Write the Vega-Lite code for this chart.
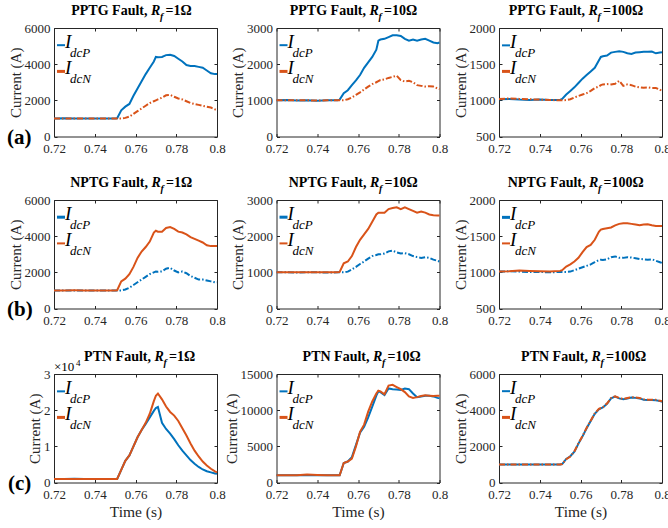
{
  "$schema": "https://vega.github.io/schema/vega-lite/v6.json",
  "padding": {"top": 3, "left": 6, "right": 0, "bottom": 0},
  "background": "white",
  "datasets": {
    "p11": [
      {"t":0.72,"P":1000,"N":995},{"t":0.725,"P":1005,"N":1000},{"t":0.73,"P":995,"N":1000},{"t":0.735,"P":1000,"N":995},
      {"t":0.74,"P":1000,"N":1000},{"t":0.745,"P":995,"N":1000},{"t":0.75,"P":1000,"N":1000},{"t":0.751,"P":1010,"N":1000},
      {"t":0.753,"P":1450,"N":1000},{"t":0.755,"P":1650,"N":1030},{"t":0.757,"P":1800,"N":1100},{"t":0.759,"P":2250,"N":1250},
      {"t":0.761,"P":2650,"N":1400},{"t":0.763,"P":3050,"N":1550},{"t":0.765,"P":3450,"N":1700},{"t":0.767,"P":3800,"N":1850},
      {"t":0.769,"P":4150,"N":1950},{"t":0.77,"P":4400,"N":2000},{"t":0.771,"P":4380,"N":2050},{"t":0.773,"P":4400,"N":2150},
      {"t":0.775,"P":4500,"N":2280},{"t":0.777,"P":4520,"N":2300},{"t":0.779,"P":4450,"N":2200},{"t":0.781,"P":4300,"N":2100},
      {"t":0.783,"P":4150,"N":2050},{"t":0.785,"P":3950,"N":1950},{"t":0.787,"P":3900,"N":1850},{"t":0.789,"P":3900,"N":1800},
      {"t":0.791,"P":3850,"N":1750},{"t":0.793,"P":3800,"N":1700},{"t":0.795,"P":3650,"N":1650},{"t":0.797,"P":3500,"N":1600},
      {"t":0.799,"P":3450,"N":1500},{"t":0.8,"P":3450,"N":1450}
    ],
    "p12": [
      {"t":0.72,"P":1000,"N":1000},{"t":0.725,"P":1010,"N":1005},{"t":0.73,"P":995,"N":1000},{"t":0.735,"P":1000,"N":1000},
      {"t":0.74,"P":990,"N":995},{"t":0.745,"P":1000,"N":1000},{"t":0.75,"P":1000,"N":1000},{"t":0.751,"P":1020,"N":1000},
      {"t":0.753,"P":1200,"N":1000},{"t":0.755,"P":1280,"N":1030},{"t":0.757,"P":1420,"N":1080},{"t":0.759,"P":1550,"N":1150},
      {"t":0.761,"P":1700,"N":1220},{"t":0.763,"P":1900,"N":1300},{"t":0.765,"P":2050,"N":1380},{"t":0.767,"P":2200,"N":1450},
      {"t":0.769,"P":2400,"N":1500},{"t":0.77,"P":2650,"N":1530},{"t":0.771,"P":2680,"N":1560},{"t":0.773,"P":2700,"N":1580},
      {"t":0.775,"P":2750,"N":1620},{"t":0.777,"P":2800,"N":1650},{"t":0.779,"P":2800,"N":1680},{"t":0.781,"P":2780,"N":1560},
      {"t":0.783,"P":2700,"N":1520},{"t":0.785,"P":2650,"N":1540},{"t":0.787,"P":2680,"N":1500},{"t":0.789,"P":2650,"N":1420},
      {"t":0.791,"P":2680,"N":1400},{"t":0.793,"P":2700,"N":1380},{"t":0.795,"P":2650,"N":1390},{"t":0.797,"P":2600,"N":1380},
      {"t":0.799,"P":2580,"N":1330},{"t":0.8,"P":2600,"N":1310}
    ],
    "p13": [
      {"t":0.72,"P":1015,"N":1020},{"t":0.725,"P":1020,"N":1025},{"t":0.73,"P":1010,"N":1020},{"t":0.735,"P":1005,"N":1015},
      {"t":0.74,"P":1010,"N":1010},{"t":0.745,"P":1005,"N":1005},{"t":0.75,"P":1005,"N":1000},{"t":0.751,"P":1020,"N":1000},
      {"t":0.753,"P":1080,"N":1005},{"t":0.755,"P":1130,"N":1015},{"t":0.757,"P":1180,"N":1040},{"t":0.759,"P":1240,"N":1060},
      {"t":0.761,"P":1300,"N":1080},{"t":0.763,"P":1350,"N":1100},{"t":0.765,"P":1400,"N":1130},{"t":0.767,"P":1450,"N":1170},
      {"t":0.769,"P":1550,"N":1190},{"t":0.77,"P":1600,"N":1210},{"t":0.771,"P":1610,"N":1220},{"t":0.773,"P":1620,"N":1225},
      {"t":0.775,"P":1660,"N":1220},{"t":0.777,"P":1670,"N":1230},{"t":0.779,"P":1680,"N":1270},{"t":0.781,"P":1670,"N":1200},
      {"t":0.783,"P":1650,"N":1220},{"t":0.785,"P":1640,"N":1210},{"t":0.787,"P":1660,"N":1190},{"t":0.789,"P":1665,"N":1180},
      {"t":0.791,"P":1670,"N":1175},{"t":0.793,"P":1670,"N":1180},{"t":0.795,"P":1675,"N":1170},{"t":0.797,"P":1650,"N":1170},
      {"t":0.799,"P":1660,"N":1150},{"t":0.8,"P":1665,"N":1120}
    ],
    "p21": [
      {"t":0.72,"P":1000,"N":1000},{"t":0.725,"P":995,"N":1000},{"t":0.73,"P":1000,"N":1005},{"t":0.735,"P":1000,"N":1000},
      {"t":0.74,"P":995,"N":1000},{"t":0.745,"P":1000,"N":1000},{"t":0.75,"P":1000,"N":1000},{"t":0.751,"P":1000,"N":1010},
      {"t":0.753,"P":1000,"N":1500},{"t":0.755,"P":1050,"N":1650},{"t":0.757,"P":1150,"N":1900},{"t":0.759,"P":1300,"N":2300},
      {"t":0.761,"P":1450,"N":2800},{"t":0.763,"P":1600,"N":3150},{"t":0.765,"P":1750,"N":3400},{"t":0.767,"P":1900,"N":3700},
      {"t":0.769,"P":2000,"N":4200},{"t":0.77,"P":2050,"N":4300},{"t":0.771,"P":2030,"N":4250},{"t":0.773,"P":2050,"N":4250},
      {"t":0.775,"P":2200,"N":4450},{"t":0.777,"P":2250,"N":4500},{"t":0.779,"P":2100,"N":4400},{"t":0.781,"P":2000,"N":4250},
      {"t":0.783,"P":2050,"N":4200},{"t":0.785,"P":1950,"N":4100},{"t":0.787,"P":1800,"N":3950},{"t":0.789,"P":1700,"N":3850},
      {"t":0.791,"P":1600,"N":3750},{"t":0.793,"P":1600,"N":3650},{"t":0.795,"P":1550,"N":3500},{"t":0.797,"P":1500,"N":3450},
      {"t":0.799,"P":1450,"N":3450},{"t":0.8,"P":1450,"N":3450}
    ],
    "p22": [
      {"t":0.72,"P":1000,"N":1000},{"t":0.725,"P":1000,"N":1000},{"t":0.73,"P":995,"N":1000},{"t":0.735,"P":1000,"N":1000},
      {"t":0.74,"P":1000,"N":1000},{"t":0.745,"P":995,"N":1000},{"t":0.75,"P":1000,"N":1000},{"t":0.751,"P":1000,"N":1010},
      {"t":0.753,"P":1000,"N":1250},{"t":0.755,"P":1020,"N":1300},{"t":0.757,"P":1080,"N":1450},{"t":0.759,"P":1150,"N":1700},
      {"t":0.761,"P":1230,"N":1900},{"t":0.763,"P":1300,"N":2050},{"t":0.765,"P":1380,"N":2200},{"t":0.767,"P":1450,"N":2400},
      {"t":0.769,"P":1480,"N":2600},{"t":0.77,"P":1500,"N":2650},{"t":0.771,"P":1500,"N":2650},{"t":0.773,"P":1520,"N":2650},
      {"t":0.775,"P":1580,"N":2750},{"t":0.777,"P":1600,"N":2780},{"t":0.779,"P":1550,"N":2800},{"t":0.781,"P":1520,"N":2750},
      {"t":0.783,"P":1530,"N":2800},{"t":0.785,"P":1500,"N":2750},{"t":0.787,"P":1450,"N":2700},{"t":0.789,"P":1420,"N":2650},
      {"t":0.791,"P":1400,"N":2680},{"t":0.793,"P":1420,"N":2650},{"t":0.795,"P":1400,"N":2600},{"t":0.797,"P":1350,"N":2580},
      {"t":0.799,"P":1320,"N":2570},{"t":0.8,"P":1300,"N":2570}
    ],
    "p23": [
      {"t":0.72,"P":1010,"N":1010},{"t":0.725,"P":1015,"N":1015},{"t":0.73,"P":1010,"N":1025},{"t":0.735,"P":1005,"N":1020},
      {"t":0.74,"P":1005,"N":1015},{"t":0.745,"P":1000,"N":1010},{"t":0.75,"P":1005,"N":1020},{"t":0.751,"P":1005,"N":1030},
      {"t":0.753,"P":1005,"N":1080},{"t":0.755,"P":1010,"N":1110},{"t":0.757,"P":1030,"N":1150},{"t":0.759,"P":1050,"N":1200},
      {"t":0.761,"P":1070,"N":1280},{"t":0.763,"P":1090,"N":1350},{"t":0.765,"P":1110,"N":1380},{"t":0.767,"P":1140,"N":1450},
      {"t":0.769,"P":1170,"N":1560},{"t":0.77,"P":1175,"N":1590},{"t":0.771,"P":1170,"N":1600},{"t":0.773,"P":1180,"N":1610},
      {"t":0.775,"P":1210,"N":1620},{"t":0.777,"P":1220,"N":1650},{"t":0.779,"P":1200,"N":1670},{"t":0.781,"P":1200,"N":1680},
      {"t":0.783,"P":1210,"N":1680},{"t":0.785,"P":1205,"N":1670},{"t":0.787,"P":1195,"N":1660},{"t":0.789,"P":1185,"N":1650},
      {"t":0.791,"P":1180,"N":1660},{"t":0.793,"P":1175,"N":1665},{"t":0.795,"P":1180,"N":1650},{"t":0.797,"P":1160,"N":1640},
      {"t":0.799,"P":1140,"N":1640},{"t":0.8,"P":1130,"N":1640}
    ],
    "p31": [
      {"t":0.72,"P":1000,"N":1000},{"t":0.725,"P":1000,"N":1000},{"t":0.73,"P":1005,"N":1000},{"t":0.735,"P":1000,"N":1000},
      {"t":0.74,"P":1000,"N":1000},{"t":0.745,"P":1000,"N":1000},{"t":0.75,"P":1000,"N":1000},{"t":0.751,"P":1000,"N":1000},
      {"t":0.753,"P":3500,"N":3500},{"t":0.755,"P":6000,"N":6000},{"t":0.757,"P":7500,"N":7500},{"t":0.759,"P":10000,"N":10000},
      {"t":0.761,"P":12500,"N":12500},{"t":0.763,"P":14500,"N":14500},{"t":0.765,"P":16200,"N":16500},{"t":0.767,"P":18000,"N":19000},
      {"t":0.769,"P":19800,"N":22500},{"t":0.77,"P":20600,"N":24000},{"t":0.771,"P":20900,"N":24600},{"t":0.773,"P":16500,"N":23000},
      {"t":0.775,"P":14800,"N":21000},{"t":0.777,"P":13500,"N":19500},{"t":0.779,"P":12000,"N":18500},{"t":0.781,"P":10300,"N":17000},
      {"t":0.783,"P":8800,"N":15000},{"t":0.785,"P":7500,"N":13000},{"t":0.787,"P":6200,"N":10800},{"t":0.789,"P":5200,"N":8800},
      {"t":0.791,"P":4300,"N":7200},{"t":0.793,"P":3600,"N":5800},{"t":0.795,"P":3100,"N":4700},{"t":0.797,"P":2800,"N":3800},
      {"t":0.799,"P":2500,"N":3100},{"t":0.8,"P":2400,"N":2800}
    ],
    "p32": [
      {"t":0.72,"P":1000,"N":1000},{"t":0.725,"P":1000,"N":1000},{"t":0.73,"P":1000,"N":1000},{"t":0.735,"P":1000,"N":1100},
      {"t":0.74,"P":1000,"N":1050},{"t":0.745,"P":1000,"N":1000},{"t":0.75,"P":1000,"N":1000},{"t":0.751,"P":1000,"N":1000},
      {"t":0.753,"P":2700,"N":2700},{"t":0.755,"P":2900,"N":2900},{"t":0.757,"P":3500,"N":3300},{"t":0.759,"P":5200,"N":5000},
      {"t":0.761,"P":6900,"N":7000},{"t":0.763,"P":7700,"N":8000},{"t":0.765,"P":9000,"N":9800},{"t":0.767,"P":10500,"N":11200},
      {"t":0.769,"P":12000,"N":12300},{"t":0.77,"P":12600,"N":12700},{"t":0.771,"P":12500,"N":12600},{"t":0.773,"P":12100,"N":12200},
      {"t":0.775,"P":13000,"N":13400},{"t":0.777,"P":12900,"N":13500},{"t":0.779,"P":12850,"N":13200},{"t":0.781,"P":12800,"N":12900},
      {"t":0.783,"P":13000,"N":12500},{"t":0.785,"P":12900,"N":11900},{"t":0.787,"P":12300,"N":11700},{"t":0.789,"P":11800,"N":11800},
      {"t":0.791,"P":11900,"N":11950},{"t":0.793,"P":12000,"N":12050},{"t":0.795,"P":12000,"N":12000},{"t":0.797,"P":11900,"N":11950},
      {"t":0.799,"P":11700,"N":12000},{"t":0.8,"P":11650,"N":12000}
    ],
    "p33": [
      {"t":0.72,"P":1000,"N":1000},{"t":0.725,"P":1000,"N":1000},{"t":0.73,"P":1000,"N":1000},{"t":0.735,"P":1000,"N":1000},
      {"t":0.74,"P":1000,"N":1000},{"t":0.745,"P":1000,"N":1000},{"t":0.75,"P":1000,"N":1000},{"t":0.751,"P":1020,"N":1020},
      {"t":0.753,"P":1300,"N":1290},{"t":0.755,"P":1450,"N":1440},{"t":0.757,"P":1700,"N":1720},{"t":0.759,"P":2150,"N":2170},
      {"t":0.761,"P":2550,"N":2570},{"t":0.763,"P":3000,"N":3020},{"t":0.765,"P":3400,"N":3420},{"t":0.767,"P":3800,"N":3820},
      {"t":0.769,"P":4050,"N":4070},{"t":0.77,"P":4100,"N":4120},{"t":0.771,"P":4150,"N":4170},{"t":0.773,"P":4350,"N":4370},
      {"t":0.775,"P":4650,"N":4670},{"t":0.777,"P":4750,"N":4770},{"t":0.779,"P":4650,"N":4670},{"t":0.781,"P":4600,"N":4620},
      {"t":0.783,"P":4650,"N":4670},{"t":0.785,"P":4700,"N":4720},{"t":0.787,"P":4680,"N":4700},{"t":0.789,"P":4650,"N":4670},
      {"t":0.791,"P":4580,"N":4600},{"t":0.793,"P":4560,"N":4580},{"t":0.795,"P":4560,"N":4580},{"t":0.797,"P":4550,"N":4570},
      {"t":0.799,"P":4500,"N":4520},{"t":0.8,"P":4470,"N":4490}
    ]
  },
  "vconcat": [
    {
      "hconcat": [
        {
          "width": 163, "height": 108.5,
          "resolve": {"axis": {"x": "independent", "y": "independent"}},
          "layer": [
            {"data": {"name": "p11"}, "transform": [{"fold": ["P", "N"], "as": ["s", "v"]}, {"filter": "datum.s === 'P'"}],
             "mark": {"type": "line", "color": "#0072BD", "strokeWidth": 2},
             "encoding": {
               "x": {"field": "t", "type": "quantitative", "scale": {"domain": [0.72, 0.8], "nice": false}, "axis": {"values": [0.72, 0.74, 0.76, 0.78, 0.8], "format": ".2~f", "title": null}},
               "y": {"field": "v", "type": "quantitative", "scale": {"domain": [0, 6000], "nice": false}, "axis": {"values": [0, 2000, 4000, 6000], "format": "d", "title": "Current (A)"}}}},
            {"data": {"name": "p11"}, "transform": [{"fold": ["P", "N"], "as": ["s", "v"]}, {"filter": "datum.s === 'N'"}],
             "mark": {"type": "line", "color": "#D95319", "strokeWidth": 2, "strokeDash": [6, 2, 1.5, 2]},
             "encoding": {
               "x": {"field": "t", "type": "quantitative", "axis": {"orient": "top", "values": [0.72, 0.74, 0.76, 0.78, 0.8], "labels": false, "title": null}},
               "y": {"field": "v", "type": "quantitative", "axis": {"orient": "right", "values": [0, 2000, 4000, 6000], "labels": false, "title": null}}}},
            {"data": {"values": [{}]}, "mark": {"type": "text", "style": "ttl", "text": "PPTG Fault,", "align": "right", "dx": 12, "dy": -13},
             "encoding": {"x": {"datum": 0.76, "type": "quantitative", "axis": null}, "y": {"datum": 6000, "type": "quantitative", "axis": null}}},
            {"data": {"values": [{}]}, "mark": {"type": "text", "style": "ttlR", "text": "R", "align": "left", "dx": 15.5, "dy": -13},
             "encoding": {"x": {"datum": 0.76, "type": "quantitative", "axis": null}, "y": {"datum": 6000, "type": "quantitative", "axis": null}}},
            {"data": {"values": [{}]}, "mark": {"type": "text", "style": "ttlf", "text": "f", "align": "left", "dx": 24.5, "dy": -8},
             "encoding": {"x": {"datum": 0.76, "type": "quantitative", "axis": null}, "y": {"datum": 6000, "type": "quantitative", "axis": null}}},
            {"data": {"values": [{}]}, "mark": {"type": "text", "style": "ttl", "text": "=1Ω", "align": "left", "dx": 30, "dy": -13},
             "encoding": {"x": {"datum": 0.76, "type": "quantitative", "axis": null}, "y": {"datum": 6000, "type": "quantitative", "axis": null}}},
            {"data": {"values": [{}]}, "mark": {"type": "point", "shape": "stroke", "size": 64, "strokeWidth": 2, "color": "#0072BD", "opacity": 1},
             "encoding": {"x": {"datum": 0.72344, "type": "quantitative", "axis": null}, "y": {"datum": 5050, "type": "quantitative", "axis": null}}},
            {"data": {"values": [{}]}, "mark": {"type": "point", "shape": "stroke", "size": 64, "strokeWidth": 3, "color": "#D95319", "opacity": 1},
             "encoding": {"x": {"datum": 0.72344, "type": "quantitative", "axis": null}, "y": {"datum": 3600, "type": "quantitative", "axis": null}}},
            {"data": {"values": [{}]}, "mark": {"type": "text", "style": "lgI", "text": "I", "align": "left", "dx": 4, "dy": 3},
             "encoding": {"x": {"datum": 0.72344, "type": "quantitative", "axis": null}, "y": {"datum": 5050, "type": "quantitative", "axis": null}}},
            {"data": {"values": [{}]}, "mark": {"type": "text", "style": "lgS", "text": "dcP", "align": "left", "dx": 9, "dy": 11.5},
             "encoding": {"x": {"datum": 0.72344, "type": "quantitative", "axis": null}, "y": {"datum": 5050, "type": "quantitative", "axis": null}}},
            {"data": {"values": [{}]}, "mark": {"type": "text", "style": "lgI", "text": "I", "align": "left", "dx": 4, "dy": 3},
             "encoding": {"x": {"datum": 0.72344, "type": "quantitative", "axis": null}, "y": {"datum": 3600, "type": "quantitative", "axis": null}}},
            {"data": {"values": [{}]}, "mark": {"type": "text", "style": "lgS", "text": "dcN", "align": "left", "dx": 9, "dy": 11.5},
             "encoding": {"x": {"datum": 0.72344, "type": "quantitative", "axis": null}, "y": {"datum": 3600, "type": "quantitative", "axis": null}}},
            {"data": {"values": [{}]}, "mark": {"type": "text", "style": "tag", "text": "(a)", "align": "left", "dx": -47, "dy": 7.5},
             "encoding": {"x": {"datum": 0.72, "type": "quantitative", "axis": null}, "y": {"datum": 0, "type": "quantitative", "axis": null}}}
          ]
        },
        {
          "width": 163, "height": 108.5,
          "resolve": {"axis": {"x": "independent", "y": "independent"}},
          "layer": [
            {"data": {"name": "p12"}, "transform": [{"fold": ["P", "N"], "as": ["s", "v"]}, {"filter": "datum.s === 'P'"}],
             "mark": {"type": "line", "color": "#0072BD", "strokeWidth": 2},
             "encoding": {
               "x": {"field": "t", "type": "quantitative", "scale": {"domain": [0.72, 0.8], "nice": false}, "axis": {"values": [0.72, 0.74, 0.76, 0.78, 0.8], "format": ".2~f", "title": null}},
               "y": {"field": "v", "type": "quantitative", "scale": {"domain": [0, 3000], "nice": false}, "axis": {"values": [0, 1000, 2000, 3000], "format": "d", "title": "Current (A)"}}}},
            {"data": {"name": "p12"}, "transform": [{"fold": ["P", "N"], "as": ["s", "v"]}, {"filter": "datum.s === 'N'"}],
             "mark": {"type": "line", "color": "#D95319", "strokeWidth": 2, "strokeDash": [6, 2, 1.5, 2]},
             "encoding": {
               "x": {"field": "t", "type": "quantitative", "axis": {"orient": "top", "values": [0.72, 0.74, 0.76, 0.78, 0.8], "labels": false, "title": null}},
               "y": {"field": "v", "type": "quantitative", "axis": {"orient": "right", "values": [0, 1000, 2000, 3000], "labels": false, "title": null}}}},
            {"data": {"values": [{}]}, "mark": {"type": "text", "style": "ttl", "text": "PPTG Fault,", "align": "right", "dx": 8, "dy": -13},
             "encoding": {"x": {"datum": 0.76, "type": "quantitative", "axis": null}, "y": {"datum": 3000, "type": "quantitative", "axis": null}}},
            {"data": {"values": [{}]}, "mark": {"type": "text", "style": "ttlR", "text": "R", "align": "left", "dx": 11.5, "dy": -13},
             "encoding": {"x": {"datum": 0.76, "type": "quantitative", "axis": null}, "y": {"datum": 3000, "type": "quantitative", "axis": null}}},
            {"data": {"values": [{}]}, "mark": {"type": "text", "style": "ttlf", "text": "f", "align": "left", "dx": 20.5, "dy": -8},
             "encoding": {"x": {"datum": 0.76, "type": "quantitative", "axis": null}, "y": {"datum": 3000, "type": "quantitative", "axis": null}}},
            {"data": {"values": [{}]}, "mark": {"type": "text", "style": "ttl", "text": "=10Ω", "align": "left", "dx": 26, "dy": -13},
             "encoding": {"x": {"datum": 0.76, "type": "quantitative", "axis": null}, "y": {"datum": 3000, "type": "quantitative", "axis": null}}},
            {"data": {"values": [{}]}, "mark": {"type": "point", "shape": "stroke", "size": 64, "strokeWidth": 2, "color": "#0072BD", "opacity": 1},
             "encoding": {"x": {"datum": 0.72344, "type": "quantitative", "axis": null}, "y": {"datum": 2525, "type": "quantitative", "axis": null}}},
            {"data": {"values": [{}]}, "mark": {"type": "point", "shape": "stroke", "size": 64, "strokeWidth": 3, "color": "#D95319", "opacity": 1},
             "encoding": {"x": {"datum": 0.72344, "type": "quantitative", "axis": null}, "y": {"datum": 1800, "type": "quantitative", "axis": null}}},
            {"data": {"values": [{}]}, "mark": {"type": "text", "style": "lgI", "text": "I", "align": "left", "dx": 4, "dy": 3},
             "encoding": {"x": {"datum": 0.72344, "type": "quantitative", "axis": null}, "y": {"datum": 2525, "type": "quantitative", "axis": null}}},
            {"data": {"values": [{}]}, "mark": {"type": "text", "style": "lgS", "text": "dcP", "align": "left", "dx": 9, "dy": 11.5},
             "encoding": {"x": {"datum": 0.72344, "type": "quantitative", "axis": null}, "y": {"datum": 2525, "type": "quantitative", "axis": null}}},
            {"data": {"values": [{}]}, "mark": {"type": "text", "style": "lgI", "text": "I", "align": "left", "dx": 4, "dy": 3},
             "encoding": {"x": {"datum": 0.72344, "type": "quantitative", "axis": null}, "y": {"datum": 1800, "type": "quantitative", "axis": null}}},
            {"data": {"values": [{}]}, "mark": {"type": "text", "style": "lgS", "text": "dcN", "align": "left", "dx": 9, "dy": 11.5},
             "encoding": {"x": {"datum": 0.72344, "type": "quantitative", "axis": null}, "y": {"datum": 1800, "type": "quantitative", "axis": null}}}
          ]
        },
        {
          "width": 163, "height": 108.5,
          "resolve": {"axis": {"x": "independent", "y": "independent"}},
          "layer": [
            {"data": {"name": "p13"}, "transform": [{"fold": ["P", "N"], "as": ["s", "v"]}, {"filter": "datum.s === 'P'"}],
             "mark": {"type": "line", "color": "#0072BD", "strokeWidth": 2},
             "encoding": {
               "x": {"field": "t", "type": "quantitative", "scale": {"domain": [0.72, 0.8], "nice": false}, "axis": {"values": [0.72, 0.74, 0.76, 0.78, 0.8], "format": ".2~f", "title": null}},
               "y": {"field": "v", "type": "quantitative", "scale": {"domain": [500, 2000], "nice": false, "zero": false}, "axis": {"values": [500, 1000, 1500, 2000], "format": "d", "title": "Current (A)"}}}},
            {"data": {"name": "p13"}, "transform": [{"fold": ["P", "N"], "as": ["s", "v"]}, {"filter": "datum.s === 'N'"}],
             "mark": {"type": "line", "color": "#D95319", "strokeWidth": 2, "strokeDash": [6, 2, 1.5, 2]},
             "encoding": {
               "x": {"field": "t", "type": "quantitative", "axis": {"orient": "top", "values": [0.72, 0.74, 0.76, 0.78, 0.8], "labels": false, "title": null}},
               "y": {"field": "v", "type": "quantitative", "axis": {"orient": "right", "values": [500, 1000, 1500, 2000], "labels": false, "title": null}}}},
            {"data": {"values": [{}]}, "mark": {"type": "text", "style": "ttl", "text": "PPTG Fault,", "align": "right", "dx": 4.5, "dy": -13},
             "encoding": {"x": {"datum": 0.76, "type": "quantitative", "axis": null}, "y": {"datum": 2000, "type": "quantitative", "axis": null}}},
            {"data": {"values": [{}]}, "mark": {"type": "text", "style": "ttlR", "text": "R", "align": "left", "dx": 8, "dy": -13},
             "encoding": {"x": {"datum": 0.76, "type": "quantitative", "axis": null}, "y": {"datum": 2000, "type": "quantitative", "axis": null}}},
            {"data": {"values": [{}]}, "mark": {"type": "text", "style": "ttlf", "text": "f", "align": "left", "dx": 17, "dy": -8},
             "encoding": {"x": {"datum": 0.76, "type": "quantitative", "axis": null}, "y": {"datum": 2000, "type": "quantitative", "axis": null}}},
            {"data": {"values": [{}]}, "mark": {"type": "text", "style": "ttl", "text": "=100Ω", "align": "left", "dx": 22.5, "dy": -13},
             "encoding": {"x": {"datum": 0.76, "type": "quantitative", "axis": null}, "y": {"datum": 2000, "type": "quantitative", "axis": null}}},
            {"data": {"values": [{}]}, "mark": {"type": "point", "shape": "stroke", "size": 64, "strokeWidth": 2, "color": "#0072BD", "opacity": 1},
             "encoding": {"x": {"datum": 0.72344, "type": "quantitative", "axis": null}, "y": {"datum": 1760, "type": "quantitative", "axis": null}}},
            {"data": {"values": [{}]}, "mark": {"type": "point", "shape": "stroke", "size": 64, "strokeWidth": 3, "color": "#D95319", "opacity": 1},
             "encoding": {"x": {"datum": 0.72344, "type": "quantitative", "axis": null}, "y": {"datum": 1400, "type": "quantitative", "axis": null}}},
            {"data": {"values": [{}]}, "mark": {"type": "text", "style": "lgI", "text": "I", "align": "left", "dx": 4, "dy": 3},
             "encoding": {"x": {"datum": 0.72344, "type": "quantitative", "axis": null}, "y": {"datum": 1760, "type": "quantitative", "axis": null}}},
            {"data": {"values": [{}]}, "mark": {"type": "text", "style": "lgS", "text": "dcP", "align": "left", "dx": 9, "dy": 11.5},
             "encoding": {"x": {"datum": 0.72344, "type": "quantitative", "axis": null}, "y": {"datum": 1760, "type": "quantitative", "axis": null}}},
            {"data": {"values": [{}]}, "mark": {"type": "text", "style": "lgI", "text": "I", "align": "left", "dx": 4, "dy": 3},
             "encoding": {"x": {"datum": 0.72344, "type": "quantitative", "axis": null}, "y": {"datum": 1400, "type": "quantitative", "axis": null}}},
            {"data": {"values": [{}]}, "mark": {"type": "text", "style": "lgS", "text": "dcN", "align": "left", "dx": 9, "dy": 11.5},
             "encoding": {"x": {"datum": 0.72344, "type": "quantitative", "axis": null}, "y": {"datum": 1400, "type": "quantitative", "axis": null}}}
          ]
        }
      ],
      "spacing": 59.5, "bounds": "flush"
    },
    {
      "vconcat": [
        {
          "hconcat": [
            {
              "width": 163, "height": 108.5,
              "resolve": {"axis": {"x": "independent", "y": "independent"}},
              "layer": [
                {"data": {"name": "p21"}, "transform": [{"fold": ["P", "N"], "as": ["s", "v"]}, {"filter": "datum.s === 'P'"}],
                 "mark": {"type": "line", "color": "#0072BD", "strokeWidth": 2, "strokeDash": [6, 2, 1.5, 2]},
                 "encoding": {
                   "x": {"field": "t", "type": "quantitative", "scale": {"domain": [0.72, 0.8], "nice": false}, "axis": {"values": [0.72, 0.74, 0.76, 0.78, 0.8], "format": ".2~f", "title": null}},
                   "y": {"field": "v", "type": "quantitative", "scale": {"domain": [0, 6000], "nice": false}, "axis": {"values": [0, 2000, 4000, 6000], "format": "d", "title": "Current (A)"}}}},
                {"data": {"name": "p21"}, "transform": [{"fold": ["P", "N"], "as": ["s", "v"]}, {"filter": "datum.s === 'N'"}],
                 "mark": {"type": "line", "color": "#D95319", "strokeWidth": 2},
                 "encoding": {
                   "x": {"field": "t", "type": "quantitative", "axis": {"orient": "top", "values": [0.72, 0.74, 0.76, 0.78, 0.8], "labels": false, "title": null}},
                   "y": {"field": "v", "type": "quantitative", "axis": {"orient": "right", "values": [0, 2000, 4000, 6000], "labels": false, "title": null}}}},
                {"data": {"values": [{}]}, "mark": {"type": "text", "style": "ttl", "text": "NPTG Fault,", "align": "right", "dx": 12.5, "dy": -13},
                 "encoding": {"x": {"datum": 0.76, "type": "quantitative", "axis": null}, "y": {"datum": 6000, "type": "quantitative", "axis": null}}},
                {"data": {"values": [{}]}, "mark": {"type": "text", "style": "ttlR", "text": "R", "align": "left", "dx": 16, "dy": -13},
                 "encoding": {"x": {"datum": 0.76, "type": "quantitative", "axis": null}, "y": {"datum": 6000, "type": "quantitative", "axis": null}}},
                {"data": {"values": [{}]}, "mark": {"type": "text", "style": "ttlf", "text": "f", "align": "left", "dx": 25, "dy": -8},
                 "encoding": {"x": {"datum": 0.76, "type": "quantitative", "axis": null}, "y": {"datum": 6000, "type": "quantitative", "axis": null}}},
                {"data": {"values": [{}]}, "mark": {"type": "text", "style": "ttl", "text": "=1Ω", "align": "left", "dx": 30.5, "dy": -13},
                 "encoding": {"x": {"datum": 0.76, "type": "quantitative", "axis": null}, "y": {"datum": 6000, "type": "quantitative", "axis": null}}},
                {"data": {"values": [{}]}, "mark": {"type": "point", "shape": "stroke", "size": 64, "strokeWidth": 3, "color": "#0072BD", "opacity": 1},
                 "encoding": {"x": {"datum": 0.72344, "type": "quantitative", "axis": null}, "y": {"datum": 5050, "type": "quantitative", "axis": null}}},
                {"data": {"values": [{}]}, "mark": {"type": "point", "shape": "stroke", "size": 64, "strokeWidth": 2, "color": "#D95319", "opacity": 1},
                 "encoding": {"x": {"datum": 0.72344, "type": "quantitative", "axis": null}, "y": {"datum": 3600, "type": "quantitative", "axis": null}}},
                {"data": {"values": [{}]}, "mark": {"type": "text", "style": "lgI", "text": "I", "align": "left", "dx": 4, "dy": 3},
                 "encoding": {"x": {"datum": 0.72344, "type": "quantitative", "axis": null}, "y": {"datum": 5050, "type": "quantitative", "axis": null}}},
                {"data": {"values": [{}]}, "mark": {"type": "text", "style": "lgS", "text": "dcP", "align": "left", "dx": 9, "dy": 11.5},
                 "encoding": {"x": {"datum": 0.72344, "type": "quantitative", "axis": null}, "y": {"datum": 5050, "type": "quantitative", "axis": null}}},
                {"data": {"values": [{}]}, "mark": {"type": "text", "style": "lgI", "text": "I", "align": "left", "dx": 4, "dy": 3},
                 "encoding": {"x": {"datum": 0.72344, "type": "quantitative", "axis": null}, "y": {"datum": 3600, "type": "quantitative", "axis": null}}},
                {"data": {"values": [{}]}, "mark": {"type": "text", "style": "lgS", "text": "dcN", "align": "left", "dx": 9, "dy": 11.5},
                 "encoding": {"x": {"datum": 0.72344, "type": "quantitative", "axis": null}, "y": {"datum": 3600, "type": "quantitative", "axis": null}}},
                {"data": {"values": [{}]}, "mark": {"type": "text", "style": "tag", "text": "(b)", "align": "left", "dx": -47, "dy": 7.5},
                 "encoding": {"x": {"datum": 0.72, "type": "quantitative", "axis": null}, "y": {"datum": 0, "type": "quantitative", "axis": null}}}
              ]
            },
            {
              "width": 163, "height": 108.5,
              "resolve": {"axis": {"x": "independent", "y": "independent"}},
              "layer": [
                {"data": {"name": "p22"}, "transform": [{"fold": ["P", "N"], "as": ["s", "v"]}, {"filter": "datum.s === 'P'"}],
                 "mark": {"type": "line", "color": "#0072BD", "strokeWidth": 2, "strokeDash": [6, 2, 1.5, 2]},
                 "encoding": {
                   "x": {"field": "t", "type": "quantitative", "scale": {"domain": [0.72, 0.8], "nice": false}, "axis": {"values": [0.72, 0.74, 0.76, 0.78, 0.8], "format": ".2~f", "title": null}},
                   "y": {"field": "v", "type": "quantitative", "scale": {"domain": [0, 3000], "nice": false}, "axis": {"values": [0, 1000, 2000, 3000], "format": "d", "title": "Current (A)"}}}},
                {"data": {"name": "p22"}, "transform": [{"fold": ["P", "N"], "as": ["s", "v"]}, {"filter": "datum.s === 'N'"}],
                 "mark": {"type": "line", "color": "#D95319", "strokeWidth": 2},
                 "encoding": {
                   "x": {"field": "t", "type": "quantitative", "axis": {"orient": "top", "values": [0.72, 0.74, 0.76, 0.78, 0.8], "labels": false, "title": null}},
                   "y": {"field": "v", "type": "quantitative", "axis": {"orient": "right", "values": [0, 1000, 2000, 3000], "labels": false, "title": null}}}},
                {"data": {"values": [{}]}, "mark": {"type": "text", "style": "ttl", "text": "NPTG Fault,", "align": "right", "dx": 8.5, "dy": -13},
                 "encoding": {"x": {"datum": 0.76, "type": "quantitative", "axis": null}, "y": {"datum": 3000, "type": "quantitative", "axis": null}}},
                {"data": {"values": [{}]}, "mark": {"type": "text", "style": "ttlR", "text": "R", "align": "left", "dx": 12, "dy": -13},
                 "encoding": {"x": {"datum": 0.76, "type": "quantitative", "axis": null}, "y": {"datum": 3000, "type": "quantitative", "axis": null}}},
                {"data": {"values": [{}]}, "mark": {"type": "text", "style": "ttlf", "text": "f", "align": "left", "dx": 21, "dy": -8},
                 "encoding": {"x": {"datum": 0.76, "type": "quantitative", "axis": null}, "y": {"datum": 3000, "type": "quantitative", "axis": null}}},
                {"data": {"values": [{}]}, "mark": {"type": "text", "style": "ttl", "text": "=10Ω", "align": "left", "dx": 26.5, "dy": -13},
                 "encoding": {"x": {"datum": 0.76, "type": "quantitative", "axis": null}, "y": {"datum": 3000, "type": "quantitative", "axis": null}}},
                {"data": {"values": [{}]}, "mark": {"type": "point", "shape": "stroke", "size": 64, "strokeWidth": 3, "color": "#0072BD", "opacity": 1},
                 "encoding": {"x": {"datum": 0.72344, "type": "quantitative", "axis": null}, "y": {"datum": 2525, "type": "quantitative", "axis": null}}},
                {"data": {"values": [{}]}, "mark": {"type": "point", "shape": "stroke", "size": 64, "strokeWidth": 2, "color": "#D95319", "opacity": 1},
                 "encoding": {"x": {"datum": 0.72344, "type": "quantitative", "axis": null}, "y": {"datum": 1800, "type": "quantitative", "axis": null}}},
                {"data": {"values": [{}]}, "mark": {"type": "text", "style": "lgI", "text": "I", "align": "left", "dx": 4, "dy": 3},
                 "encoding": {"x": {"datum": 0.72344, "type": "quantitative", "axis": null}, "y": {"datum": 2525, "type": "quantitative", "axis": null}}},
                {"data": {"values": [{}]}, "mark": {"type": "text", "style": "lgS", "text": "dcP", "align": "left", "dx": 9, "dy": 11.5},
                 "encoding": {"x": {"datum": 0.72344, "type": "quantitative", "axis": null}, "y": {"datum": 2525, "type": "quantitative", "axis": null}}},
                {"data": {"values": [{}]}, "mark": {"type": "text", "style": "lgI", "text": "I", "align": "left", "dx": 4, "dy": 3},
                 "encoding": {"x": {"datum": 0.72344, "type": "quantitative", "axis": null}, "y": {"datum": 1800, "type": "quantitative", "axis": null}}},
                {"data": {"values": [{}]}, "mark": {"type": "text", "style": "lgS", "text": "dcN", "align": "left", "dx": 9, "dy": 11.5},
                 "encoding": {"x": {"datum": 0.72344, "type": "quantitative", "axis": null}, "y": {"datum": 1800, "type": "quantitative", "axis": null}}}
              ]
            },
            {
              "width": 163, "height": 108.5,
              "resolve": {"axis": {"x": "independent", "y": "independent"}},
              "layer": [
                {"data": {"name": "p23"}, "transform": [{"fold": ["P", "N"], "as": ["s", "v"]}, {"filter": "datum.s === 'P'"}],
                 "mark": {"type": "line", "color": "#0072BD", "strokeWidth": 2, "strokeDash": [6, 2, 1.5, 2]},
                 "encoding": {
                   "x": {"field": "t", "type": "quantitative", "scale": {"domain": [0.72, 0.8], "nice": false}, "axis": {"values": [0.72, 0.74, 0.76, 0.78, 0.8], "format": ".2~f", "title": null}},
                   "y": {"field": "v", "type": "quantitative", "scale": {"domain": [500, 2000], "nice": false, "zero": false}, "axis": {"values": [500, 1000, 1500, 2000], "format": "d", "title": "Current (A)"}}}},
                {"data": {"name": "p23"}, "transform": [{"fold": ["P", "N"], "as": ["s", "v"]}, {"filter": "datum.s === 'N'"}],
                 "mark": {"type": "line", "color": "#D95319", "strokeWidth": 2},
                 "encoding": {
                   "x": {"field": "t", "type": "quantitative", "axis": {"orient": "top", "values": [0.72, 0.74, 0.76, 0.78, 0.8], "labels": false, "title": null}},
                   "y": {"field": "v", "type": "quantitative", "axis": {"orient": "right", "values": [500, 1000, 1500, 2000], "labels": false, "title": null}}}},
                {"data": {"values": [{}]}, "mark": {"type": "text", "style": "ttl", "text": "NPTG Fault,", "align": "right", "dx": 5, "dy": -13},
                 "encoding": {"x": {"datum": 0.76, "type": "quantitative", "axis": null}, "y": {"datum": 2000, "type": "quantitative", "axis": null}}},
                {"data": {"values": [{}]}, "mark": {"type": "text", "style": "ttlR", "text": "R", "align": "left", "dx": 8.5, "dy": -13},
                 "encoding": {"x": {"datum": 0.76, "type": "quantitative", "axis": null}, "y": {"datum": 2000, "type": "quantitative", "axis": null}}},
                {"data": {"values": [{}]}, "mark": {"type": "text", "style": "ttlf", "text": "f", "align": "left", "dx": 17.5, "dy": -8},
                 "encoding": {"x": {"datum": 0.76, "type": "quantitative", "axis": null}, "y": {"datum": 2000, "type": "quantitative", "axis": null}}},
                {"data": {"values": [{}]}, "mark": {"type": "text", "style": "ttl", "text": "=100Ω", "align": "left", "dx": 23, "dy": -13},
                 "encoding": {"x": {"datum": 0.76, "type": "quantitative", "axis": null}, "y": {"datum": 2000, "type": "quantitative", "axis": null}}},
                {"data": {"values": [{}]}, "mark": {"type": "point", "shape": "stroke", "size": 64, "strokeWidth": 3, "color": "#0072BD", "opacity": 1},
                 "encoding": {"x": {"datum": 0.72344, "type": "quantitative", "axis": null}, "y": {"datum": 1760, "type": "quantitative", "axis": null}}},
                {"data": {"values": [{}]}, "mark": {"type": "point", "shape": "stroke", "size": 64, "strokeWidth": 2, "color": "#D95319", "opacity": 1},
                 "encoding": {"x": {"datum": 0.72344, "type": "quantitative", "axis": null}, "y": {"datum": 1400, "type": "quantitative", "axis": null}}},
                {"data": {"values": [{}]}, "mark": {"type": "text", "style": "lgI", "text": "I", "align": "left", "dx": 4, "dy": 3},
                 "encoding": {"x": {"datum": 0.72344, "type": "quantitative", "axis": null}, "y": {"datum": 1760, "type": "quantitative", "axis": null}}},
                {"data": {"values": [{}]}, "mark": {"type": "text", "style": "lgS", "text": "dcP", "align": "left", "dx": 9, "dy": 11.5},
                 "encoding": {"x": {"datum": 0.72344, "type": "quantitative", "axis": null}, "y": {"datum": 1760, "type": "quantitative", "axis": null}}},
                {"data": {"values": [{}]}, "mark": {"type": "text", "style": "lgI", "text": "I", "align": "left", "dx": 4, "dy": 3},
                 "encoding": {"x": {"datum": 0.72344, "type": "quantitative", "axis": null}, "y": {"datum": 1400, "type": "quantitative", "axis": null}}},
                {"data": {"values": [{}]}, "mark": {"type": "text", "style": "lgS", "text": "dcN", "align": "left", "dx": 9, "dy": 11.5},
                 "encoding": {"x": {"datum": 0.72344, "type": "quantitative", "axis": null}, "y": {"datum": 1400, "type": "quantitative", "axis": null}}}
              ]
            }
          ],
          "spacing": 59.5, "bounds": "flush"
        },
        {
          "hconcat": [
            {
              "width": 163, "height": 108.5,
              "resolve": {"axis": {"x": "independent", "y": "independent"}},
              "layer": [
                {"data": {"name": "p31"}, "transform": [{"fold": ["P", "N"], "as": ["s", "v"]}, {"filter": "datum.s === 'P'"}],
                 "mark": {"type": "line", "color": "#0072BD", "strokeWidth": 2},
                 "encoding": {
                   "x": {"field": "t", "type": "quantitative", "scale": {"domain": [0.72, 0.8], "nice": false}, "axis": {"values": [0.72, 0.74, 0.76, 0.78, 0.8], "format": ".2~f", "title": "Time (s)"}},
                   "y": {"field": "v", "type": "quantitative", "scale": {"domain": [0, 30000], "nice": false}, "axis": {"values": [0, 10000, 20000, 30000], "labelExpr": "format(datum.value / 10000, 'd')", "title": "Current (A)"}}}},
                {"data": {"name": "p31"}, "transform": [{"fold": ["P", "N"], "as": ["s", "v"]}, {"filter": "datum.s === 'N'"}],
                 "mark": {"type": "line", "color": "#D95319", "strokeWidth": 2},
                 "encoding": {
                   "x": {"field": "t", "type": "quantitative", "axis": {"orient": "top", "values": [0.72, 0.74, 0.76, 0.78, 0.8], "labels": false, "title": null}},
                   "y": {"field": "v", "type": "quantitative", "axis": {"orient": "right", "values": [0, 10000, 20000, 30000], "labels": false, "title": null}}}},
                {"data": {"values": [{}]}, "mark": {"type": "text", "style": "ttl", "text": "PTN Fault,", "align": "right", "dx": 15.5, "dy": -13},
                 "encoding": {"x": {"datum": 0.76, "type": "quantitative", "axis": null}, "y": {"datum": 30000, "type": "quantitative", "axis": null}}},
                {"data": {"values": [{}]}, "mark": {"type": "text", "style": "ttlR", "text": "R", "align": "left", "dx": 19, "dy": -13},
                 "encoding": {"x": {"datum": 0.76, "type": "quantitative", "axis": null}, "y": {"datum": 30000, "type": "quantitative", "axis": null}}},
                {"data": {"values": [{}]}, "mark": {"type": "text", "style": "ttlf", "text": "f", "align": "left", "dx": 28, "dy": -8},
                 "encoding": {"x": {"datum": 0.76, "type": "quantitative", "axis": null}, "y": {"datum": 30000, "type": "quantitative", "axis": null}}},
                {"data": {"values": [{}]}, "mark": {"type": "text", "style": "ttl", "text": "=1Ω", "align": "left", "dx": 33.5, "dy": -13},
                 "encoding": {"x": {"datum": 0.76, "type": "quantitative", "axis": null}, "y": {"datum": 30000, "type": "quantitative", "axis": null}}},
                {"data": {"values": [{}]}, "mark": {"type": "text", "style": "mul", "text": "×10", "align": "left", "dy": -3},
                 "encoding": {"x": {"datum": 0.72, "type": "quantitative", "axis": null}, "y": {"datum": 30000, "type": "quantitative", "axis": null}}},
                {"data": {"values": [{}]}, "mark": {"type": "text", "style": "sup", "text": "4", "align": "left", "dx": 22, "dy": -8},
                 "encoding": {"x": {"datum": 0.72, "type": "quantitative", "axis": null}, "y": {"datum": 30000, "type": "quantitative", "axis": null}}},
                {"data": {"values": [{}]}, "mark": {"type": "point", "shape": "stroke", "size": 64, "strokeWidth": 2, "color": "#0072BD", "opacity": 1},
                 "encoding": {"x": {"datum": 0.72344, "type": "quantitative", "axis": null}, "y": {"datum": 25200, "type": "quantitative", "axis": null}}},
                {"data": {"values": [{}]}, "mark": {"type": "point", "shape": "stroke", "size": 64, "strokeWidth": 3, "color": "#D95319", "opacity": 1},
                 "encoding": {"x": {"datum": 0.72344, "type": "quantitative", "axis": null}, "y": {"datum": 18000, "type": "quantitative", "axis": null}}},
                {"data": {"values": [{}]}, "mark": {"type": "text", "style": "lgI", "text": "I", "align": "left", "dx": 4, "dy": 3},
                 "encoding": {"x": {"datum": 0.72344, "type": "quantitative", "axis": null}, "y": {"datum": 25200, "type": "quantitative", "axis": null}}},
                {"data": {"values": [{}]}, "mark": {"type": "text", "style": "lgS", "text": "dcP", "align": "left", "dx": 9, "dy": 11.5},
                 "encoding": {"x": {"datum": 0.72344, "type": "quantitative", "axis": null}, "y": {"datum": 25200, "type": "quantitative", "axis": null}}},
                {"data": {"values": [{}]}, "mark": {"type": "text", "style": "lgI", "text": "I", "align": "left", "dx": 4, "dy": 3},
                 "encoding": {"x": {"datum": 0.72344, "type": "quantitative", "axis": null}, "y": {"datum": 18000, "type": "quantitative", "axis": null}}},
                {"data": {"values": [{}]}, "mark": {"type": "text", "style": "lgS", "text": "dcN", "align": "left", "dx": 9, "dy": 11.5},
                 "encoding": {"x": {"datum": 0.72344, "type": "quantitative", "axis": null}, "y": {"datum": 18000, "type": "quantitative", "axis": null}}},
                {"data": {"values": [{}]}, "mark": {"type": "text", "style": "tag", "text": "(c)", "align": "left", "dx": -46, "dy": 7},
                 "encoding": {"x": {"datum": 0.72, "type": "quantitative", "axis": null}, "y": {"datum": 0, "type": "quantitative", "axis": null}}}
              ]
            },
            {
              "width": 163, "height": 108.5,
              "resolve": {"axis": {"x": "independent", "y": "independent"}},
              "layer": [
                {"data": {"name": "p32"}, "transform": [{"fold": ["P", "N"], "as": ["s", "v"]}, {"filter": "datum.s === 'P'"}],
                 "mark": {"type": "line", "color": "#0072BD", "strokeWidth": 2},
                 "encoding": {
                   "x": {"field": "t", "type": "quantitative", "scale": {"domain": [0.72, 0.8], "nice": false}, "axis": {"values": [0.72, 0.74, 0.76, 0.78, 0.8], "format": ".2~f", "title": "Time (s)"}},
                   "y": {"field": "v", "type": "quantitative", "scale": {"domain": [0, 15000], "nice": false}, "axis": {"values": [0, 5000, 10000, 15000], "format": "d", "title": "Current (A)"}}}},
                {"data": {"name": "p32"}, "transform": [{"fold": ["P", "N"], "as": ["s", "v"]}, {"filter": "datum.s === 'N'"}],
                 "mark": {"type": "line", "color": "#D95319", "strokeWidth": 2},
                 "encoding": {
                   "x": {"field": "t", "type": "quantitative", "axis": {"orient": "top", "values": [0.72, 0.74, 0.76, 0.78, 0.8], "labels": false, "title": null}},
                   "y": {"field": "v", "type": "quantitative", "axis": {"orient": "right", "values": [0, 5000, 10000, 15000], "labels": false, "title": null}}}},
                {"data": {"values": [{}]}, "mark": {"type": "text", "style": "ttl", "text": "PTN Fault,", "align": "right", "dx": 11.5, "dy": -13},
                 "encoding": {"x": {"datum": 0.76, "type": "quantitative", "axis": null}, "y": {"datum": 15000, "type": "quantitative", "axis": null}}},
                {"data": {"values": [{}]}, "mark": {"type": "text", "style": "ttlR", "text": "R", "align": "left", "dx": 15, "dy": -13},
                 "encoding": {"x": {"datum": 0.76, "type": "quantitative", "axis": null}, "y": {"datum": 15000, "type": "quantitative", "axis": null}}},
                {"data": {"values": [{}]}, "mark": {"type": "text", "style": "ttlf", "text": "f", "align": "left", "dx": 24, "dy": -8},
                 "encoding": {"x": {"datum": 0.76, "type": "quantitative", "axis": null}, "y": {"datum": 15000, "type": "quantitative", "axis": null}}},
                {"data": {"values": [{}]}, "mark": {"type": "text", "style": "ttl", "text": "=10Ω", "align": "left", "dx": 29.5, "dy": -13},
                 "encoding": {"x": {"datum": 0.76, "type": "quantitative", "axis": null}, "y": {"datum": 15000, "type": "quantitative", "axis": null}}},
                {"data": {"values": [{}]}, "mark": {"type": "point", "shape": "stroke", "size": 64, "strokeWidth": 2, "color": "#0072BD", "opacity": 1},
                 "encoding": {"x": {"datum": 0.72344, "type": "quantitative", "axis": null}, "y": {"datum": 12600, "type": "quantitative", "axis": null}}},
                {"data": {"values": [{}]}, "mark": {"type": "point", "shape": "stroke", "size": 64, "strokeWidth": 3, "color": "#D95319", "opacity": 1},
                 "encoding": {"x": {"datum": 0.72344, "type": "quantitative", "axis": null}, "y": {"datum": 9000, "type": "quantitative", "axis": null}}},
                {"data": {"values": [{}]}, "mark": {"type": "text", "style": "lgI", "text": "I", "align": "left", "dx": 4, "dy": 3},
                 "encoding": {"x": {"datum": 0.72344, "type": "quantitative", "axis": null}, "y": {"datum": 12600, "type": "quantitative", "axis": null}}},
                {"data": {"values": [{}]}, "mark": {"type": "text", "style": "lgS", "text": "dcP", "align": "left", "dx": 9, "dy": 11.5},
                 "encoding": {"x": {"datum": 0.72344, "type": "quantitative", "axis": null}, "y": {"datum": 12600, "type": "quantitative", "axis": null}}},
                {"data": {"values": [{}]}, "mark": {"type": "text", "style": "lgI", "text": "I", "align": "left", "dx": 4, "dy": 3},
                 "encoding": {"x": {"datum": 0.72344, "type": "quantitative", "axis": null}, "y": {"datum": 9000, "type": "quantitative", "axis": null}}},
                {"data": {"values": [{}]}, "mark": {"type": "text", "style": "lgS", "text": "dcN", "align": "left", "dx": 9, "dy": 11.5},
                 "encoding": {"x": {"datum": 0.72344, "type": "quantitative", "axis": null}, "y": {"datum": 9000, "type": "quantitative", "axis": null}}}
              ]
            },
            {
              "width": 163, "height": 108.5,
              "resolve": {"axis": {"x": "independent", "y": "independent"}},
              "layer": [
                {"data": {"name": "p33"}, "transform": [{"fold": ["P", "N"], "as": ["s", "v"]}, {"filter": "datum.s === 'P'"}],
                 "mark": {"type": "line", "color": "#0072BD", "strokeWidth": 2},
                 "encoding": {
                   "x": {"field": "t", "type": "quantitative", "scale": {"domain": [0.72, 0.8], "nice": false}, "axis": {"values": [0.72, 0.74, 0.76, 0.78, 0.8], "format": ".2~f", "title": "Time (s)"}},
                   "y": {"field": "v", "type": "quantitative", "scale": {"domain": [0, 6000], "nice": false}, "axis": {"values": [0, 2000, 4000, 6000], "format": "d", "title": "Current (A)"}}}},
                {"data": {"name": "p33"}, "transform": [{"fold": ["P", "N"], "as": ["s", "v"]}, {"filter": "datum.s === 'N'"}],
                 "mark": {"type": "line", "color": "#D95319", "strokeWidth": 2, "strokeDash": [6, 2, 1.5, 2]},
                 "encoding": {
                   "x": {"field": "t", "type": "quantitative", "axis": {"orient": "top", "values": [0.72, 0.74, 0.76, 0.78, 0.8], "labels": false, "title": null}},
                   "y": {"field": "v", "type": "quantitative", "axis": {"orient": "right", "values": [0, 2000, 4000, 6000], "labels": false, "title": null}}}},
                {"data": {"values": [{}]}, "mark": {"type": "text", "style": "ttl", "text": "PTN Fault,", "align": "right", "dx": 7.5, "dy": -13},
                 "encoding": {"x": {"datum": 0.76, "type": "quantitative", "axis": null}, "y": {"datum": 6000, "type": "quantitative", "axis": null}}},
                {"data": {"values": [{}]}, "mark": {"type": "text", "style": "ttlR", "text": "R", "align": "left", "dx": 11, "dy": -13},
                 "encoding": {"x": {"datum": 0.76, "type": "quantitative", "axis": null}, "y": {"datum": 6000, "type": "quantitative", "axis": null}}},
                {"data": {"values": [{}]}, "mark": {"type": "text", "style": "ttlf", "text": "f", "align": "left", "dx": 20, "dy": -8},
                 "encoding": {"x": {"datum": 0.76, "type": "quantitative", "axis": null}, "y": {"datum": 6000, "type": "quantitative", "axis": null}}},
                {"data": {"values": [{}]}, "mark": {"type": "text", "style": "ttl", "text": "=100Ω", "align": "left", "dx": 25.5, "dy": -13},
                 "encoding": {"x": {"datum": 0.76, "type": "quantitative", "axis": null}, "y": {"datum": 6000, "type": "quantitative", "axis": null}}},
                {"data": {"values": [{}]}, "mark": {"type": "point", "shape": "stroke", "size": 64, "strokeWidth": 2, "color": "#0072BD", "opacity": 1},
                 "encoding": {"x": {"datum": 0.72344, "type": "quantitative", "axis": null}, "y": {"datum": 5050, "type": "quantitative", "axis": null}}},
                {"data": {"values": [{}]}, "mark": {"type": "point", "shape": "stroke", "size": 64, "strokeWidth": 3, "color": "#D95319", "opacity": 1},
                 "encoding": {"x": {"datum": 0.72344, "type": "quantitative", "axis": null}, "y": {"datum": 3600, "type": "quantitative", "axis": null}}},
                {"data": {"values": [{}]}, "mark": {"type": "text", "style": "lgI", "text": "I", "align": "left", "dx": 4, "dy": 3},
                 "encoding": {"x": {"datum": 0.72344, "type": "quantitative", "axis": null}, "y": {"datum": 5050, "type": "quantitative", "axis": null}}},
                {"data": {"values": [{}]}, "mark": {"type": "text", "style": "lgS", "text": "dcP", "align": "left", "dx": 9, "dy": 11.5},
                 "encoding": {"x": {"datum": 0.72344, "type": "quantitative", "axis": null}, "y": {"datum": 5050, "type": "quantitative", "axis": null}}},
                {"data": {"values": [{}]}, "mark": {"type": "text", "style": "lgI", "text": "I", "align": "left", "dx": 4, "dy": 3},
                 "encoding": {"x": {"datum": 0.72344, "type": "quantitative", "axis": null}, "y": {"datum": 3600, "type": "quantitative", "axis": null}}},
                {"data": {"values": [{}]}, "mark": {"type": "text", "style": "lgS", "text": "dcN", "align": "left", "dx": 9, "dy": 11.5},
                 "encoding": {"x": {"datum": 0.72344, "type": "quantitative", "axis": null}, "y": {"datum": 3600, "type": "quantitative", "axis": null}}}
              ]
            }
          ],
          "spacing": 59.5, "bounds": "flush"
        }
      ],
      "spacing": 21
    }
  ],
  "spacing": 19,
  "config": {
    "font": "Liberation Serif",
    "view": {"stroke": "#262626", "strokeWidth": 1},
    "text": {"baseline": "alphabetic"},
    "axis": {
      "grid": false, "domain": false,
      "labelFont": "Liberation Serif", "labelFontSize": 13, "labelColor": "#262626",
      "labelFlush": false, "labelOverlap": false,
      "titleFont": "Liberation Serif", "titleFontSize": 15, "titleFontWeight": "normal", "titleColor": "#262626",
      "tickColor": "#262626", "tickSize": -3, "tickWidth": 1
    },
    "axisX": {"labelPadding": 8.5, "titlePadding": 3, "titleFontSize": 15.5},
    "axisY": {"labelPadding": 7, "titlePadding": 1},
    "style": {
      "ttl": {"font": "Liberation Serif", "fontSize": 14, "fontWeight": "bold", "fill": "#000000", "baseline": "alphabetic"},
      "ttlR": {"font": "Liberation Serif", "fontSize": 14, "fontWeight": "bold", "fontStyle": "italic", "fill": "#000000", "baseline": "alphabetic"},
      "ttlf": {"font": "Liberation Serif", "fontSize": 10, "fontWeight": "bold", "fontStyle": "italic", "fill": "#000000", "baseline": "alphabetic"},
      "lgI": {"font": "Liberation Serif", "fontSize": 19, "fontStyle": "italic", "fill": "#000000", "baseline": "alphabetic"},
      "lgS": {"font": "Liberation Serif", "fontSize": 13, "fontStyle": "italic", "fill": "#000000", "baseline": "alphabetic"},
      "tag": {"font": "Liberation Serif", "fontSize": 21, "fontWeight": "bold", "fill": "#000000", "baseline": "alphabetic"},
      "mul": {"font": "Liberation Serif", "fontSize": 13, "fill": "#262626", "baseline": "alphabetic"},
      "sup": {"font": "Liberation Serif", "fontSize": 9, "fill": "#262626", "baseline": "alphabetic"}
    }
  }
}
